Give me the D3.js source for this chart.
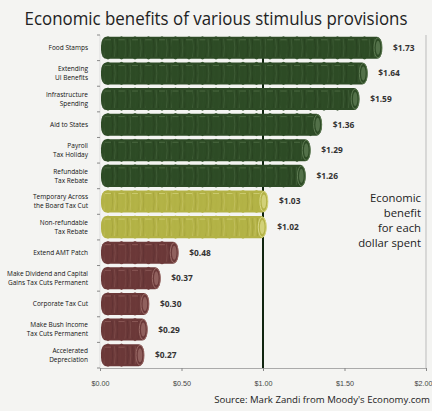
<!DOCTYPE html>
<html>
<head>
<meta charset="utf-8">
<script src="https://cdnjs.cloudflare.com/ajax/libs/d3/7.8.5/d3.min.js"></script>
<style>
  body { margin: 0; background: #f4f4f2; }
  svg { display: block; font-family: "Open Sans", "Noto Sans", sans-serif; }
</style>
</head>
<body>
<div id="chart-area"></div>
<script>
var categories = [
  "Food Stamps", "Extending\nUI Benefits", "Infrastructure\nSpending", "Aid to States",
  "Payroll\nTax Holiday", "Refundable\nTax Rebate", "Temporary Across\nthe Board Tax Cut",
  "Non-refundable\nTax Rebate", "Extend AMT Patch", "Make Dividend and Capital\nGains Tax Cuts Permanent",
  "Corporate Tax Cut", "Make Bush Income\nTax Cuts Permanent", "Accelerated\nDepreciation"
];
var values = [1.73, 1.64, 1.59, 1.36, 1.29, 1.26, 1.03, 1.02, 0.48, 0.37, 0.30, 0.29, 0.27];
var groups = ["high", "high", "high", "high", "high", "high", "mid", "mid", "low", "low", "low", "low", "low"];
var tickValues = [0, 0.5, 1, 1.5, 2];
var noteLines = ["Economic", "benefit", "for each", "dollar spent"];

var width = 432, height = 411;
var margin = { top: 35, right: 6, bottom: 43, left: 100 };

var color = d3.scaleOrdinal()
  .domain(["high", "mid", "low"])
  .range(["#2e4b26", "#b3b246", "#6b3939"]);
var light = d3.scaleOrdinal()
  .domain(["high", "mid", "low"])
  .range(["#5d7a52", "#d9d886", "#9a6a66"]);
var dark = d3.scaleOrdinal()
  .domain(["high", "mid", "low"])
  .range(["#1c3017", "#8d8c2c", "#4c2627"]);

var x = d3.scaleLinear().domain([0, 2]).range([margin.left, width - margin.right]);
var y = d3.scaleBand().domain(categories).range([margin.top, height - margin.bottom]).paddingInner(0.14).paddingOuter(0.07);

var svg = d3.select("#chart-area").append("svg")
  .attr("width", width).attr("height", height);

svg.append("rect").attr("width", width).attr("height", height).attr("fill", "#f4f4f2");

svg.append("text")
  .attr("x", width / 2).attr("y", 25)
  .attr("text-anchor", "middle")
  .attr("font-size", "18px")
  .attr("textLength", 383)
  .attr("lengthAdjust", "spacingAndGlyphs")
  .attr("fill", "#222")
  .text("Economic benefits of various stimulus provisions");

// right frame line
svg.append("line")
  .attr("x1", x(2)).attr("x2", x(2))
  .attr("y1", margin.top).attr("y2", height - margin.bottom)
  .attr("stroke", "#bbb").attr("stroke-width", 1);

// bottom axis
var xAxis = d3.axisBottom(x).tickValues(tickValues).tickSize(3).tickFormat(d3.format("$.2f"));
var gx = svg.append("g")
  .attr("transform", "translate(0," + (height - margin.bottom) + ")")
  .call(xAxis);
gx.select(".domain").attr("stroke", "#aaa");
gx.selectAll(".tick line").attr("stroke", "#888");
gx.selectAll(".tick text").attr("font-size", "7.2px").attr("fill", "#444").attr("dy", "1.6em");
gx.selectAll(".tick text").filter(function(d) { return d === 2; })
  .attr("text-anchor", "end").attr("x", 6);

// left ticks between rows
var boundaries = categories.map(function(c) { return y(c) - y.step() * y.paddingInner() / 2; });
boundaries.push(height - margin.bottom);
svg.append("line")
  .attr("x1", x(0)).attr("x2", x(0))
  .attr("y1", margin.top).attr("y2", height - margin.bottom)
  .attr("stroke", "#ddd");
svg.selectAll("line.ytick").data(boundaries).enter().append("line")
  .attr("class", "ytick")
  .attr("x1", x(0) - 3).attr("x2", x(0))
  .attr("y1", function(d) { return d; }).attr("y2", function(d) { return d; })
  .attr("stroke", "#888");

// $1.00 reference line
svg.append("line")
  .attr("x1", x(1)).attr("x2", x(1))
  .attr("y1", margin.top + 6).attr("y2", height - margin.bottom)
  .attr("stroke", "#102510").attr("stroke-width", 2);

// coin stacks
var bh = y.bandwidth();
var bars = svg.selectAll("g.bar").data(values).enter().append("g")
  .attr("class", "bar")
  .attr("transform", function(d, i) { return "translate(0," + y(categories[i]) + ")"; });

bars.append("rect")
  .attr("x", x(0) + 1)
  .attr("y", 0)
  .attr("width", function(d) { return x(d) - x(0) - 1; })
  .attr("height", bh)
  .attr("rx", 5).attr("ry", bh / 2 - 2)
  .attr("fill", function(d, i) { return color(groups[i]); });

// coin edges
bars.each(function(d, i) {
  var g = d3.select(this);
  var xs = d3.range(x(0) + 4, x(d) - 6, 2.6);
  g.selectAll("path.edge").data(xs).enter().append("path")
    .attr("class", "edge")
    .attr("d", function(px) {
      return "M" + px + "," + 2 + " Q" + (px + 1.6) + "," + (bh / 2) + " " + px + "," + (bh - 2);
    })
    .attr("fill", "none")
    .attr("stroke", function(px, j) { return j % 2 ? dark(groups[i]) : light(groups[i]); })
    .attr("stroke-width", 0.6)
    .attr("opacity", 0.55);
  // bumps every few coins
  var bumps = d3.range(x(0) + 8, x(d) - 10, 13.5);
  g.selectAll("ellipse.bump").data(bumps).enter().append("ellipse")
    .attr("class", "bump")
    .attr("cx", function(px) { return px; })
    .attr("cy", bh / 2)
    .attr("rx", 4).attr("ry", bh / 2 + 0.6)
    .attr("fill", color(groups[i]))
    .attr("opacity", 0.9);
  g.selectAll("path.hl").data(bumps).enter().append("path")
    .attr("class", "hl")
    .attr("d", function(px) { return "M" + (px - 3) + "," + 3 + " L" + (px + 3) + "," + 3; })
    .attr("stroke", light(groups[i]))
    .attr("stroke-width", 0.8)
    .attr("opacity", 0.8);
  // end cap
  g.append("ellipse")
    .attr("cx", x(d) - 4).attr("cy", bh / 2)
    .attr("rx", 4).attr("ry", bh / 2 - 1)
    .attr("fill", color(groups[i]))
    .attr("stroke", light(groups[i])).attr("stroke-width", 1);
  g.append("ellipse")
    .attr("cx", x(d) - 4).attr("cy", bh / 2)
    .attr("rx", 2.3).attr("ry", bh / 2 - 4)
    .attr("fill", light(groups[i]))
    .attr("opacity", 0.8);
});

// value labels
bars.append("text")
  .attr("x", function(d) { return x(d) + 11; })
  .attr("y", bh / 2)
  .attr("dy", "0.35em")
  .attr("font-size", "8.4px")
  .attr("font-weight", "bold")
  .attr("fill", "#333")
  .text(function(d) { return "$" + d.toFixed(2); });

// category labels
var labels = svg.selectAll("text.cat").data(categories).enter().append("text")
  .attr("class", "cat")
  .attr("text-anchor", "end")
  .attr("font-size", "6.5px")
  .attr("fill", "#111")
  .attr("transform", function(d) { return "translate(88," + (y(d) + bh / 2) + ")"; });
labels.selectAll("tspan").data(function(d) {
    var lines = d.split("\n");
    return lines.map(function(t, j) { return { t: t, j: j, n: lines.length }; });
  }).enter().append("tspan")
  .attr("x", 0)
  .attr("y", function(d) { return (d.j - (d.n - 1) / 2) * 9; })
  .attr("dy", "0.35em")
  .text(function(d) { return d.t; });

// side note
svg.append("text")
  .attr("text-anchor", "end")
  .attr("font-size", "11.3px")
  .attr("fill", "#222")
  .selectAll("tspan").data(noteLines).enter().append("tspan")
  .attr("x", 421)
  .attr("y", function(d, i) { return 202 + i * 15; })
  .text(function(d) { return d; });

// source
svg.append("text")
  .attr("x", 430).attr("y", 403)
  .attr("text-anchor", "end")
  .attr("font-size", "9.6px")
  .attr("fill", "#222")
  .text("Source: Mark Zandi from Moody's Economy.com");
</script>
</body>
</html>
